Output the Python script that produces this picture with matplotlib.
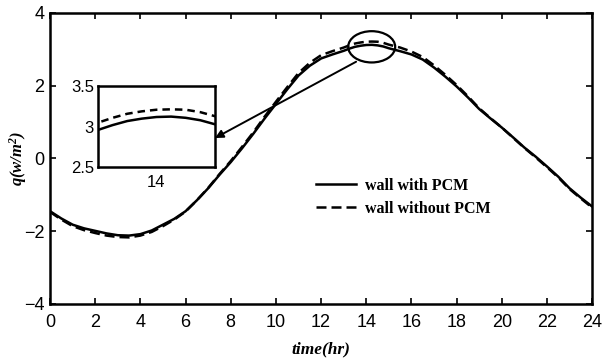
import matplotlib
matplotlib.use("Agg")
import matplotlib.pyplot as plt
from matplotlib.patches import Ellipse

# heat flux through the wall over one day (finer steps around the peak)
tempo = [0, 0.5, 1, 1.5, 2, 2.5, 3, 3.5, 4, 4.5, 5, 5.5, 6, 6.5, 7, 7.5, 8, 8.5,
         9, 9.5, 10, 10.5, 11, 11.5, 12, 12.5, 12.75, 13, 13.25, 13.5, 13.75, 14,
         14.25, 14.5, 14.75, 15, 15.25, 15.5, 16, 16.5, 17, 17.5, 18, 18.5, 19,
         19.5, 20, 20.5, 21, 21.5, 22, 22.5, 23, 23.5, 24]
q_com_pcm = [-1.45, -1.65, -1.82, -1.92, -1.99, -2.06, -2.11, -2.12, -2.08, -1.98,
             -1.82, -1.66, -1.45, -1.15, -0.82, -0.45, -0.10, 0.28, 0.68, 1.10,
             1.50, 1.90, 2.28, 2.55, 2.75, 2.86, 2.91, 2.96, 3.02, 3.07, 3.10,
             3.12, 3.125, 3.11, 3.08, 3.03, 2.99, 2.95, 2.86, 2.72, 2.50, 2.25,
             1.98, 1.68, 1.36, 1.10, 0.85, 0.58, 0.30, 0.05, -0.22, -0.50, -0.82,
             -1.08, -1.32]
q_sem_pcm = [-1.47, -1.68, -1.86, -1.97, -2.05, -2.12, -2.16, -2.17, -2.12, -2.02,
             -1.86, -1.68, -1.46, -1.15, -0.81, -0.43, -0.07, 0.32, 0.72, 1.15,
             1.56, 1.96, 2.35, 2.63, 2.84, 2.95, 3.00, 3.05, 3.11, 3.16, 3.19,
             3.21, 3.215, 3.21, 3.18, 3.13, 3.09, 3.05, 2.94, 2.79, 2.56, 2.30,
             2.02, 1.71, 1.38, 1.11, 0.85, 0.57, 0.29, 0.03, -0.24, -0.52, -0.84,
             -1.10, -1.35]

rotulos = ["wall with PCM", "wall without PCM"]
xticks = list(range(0, 25, 2))
yticks = [-4, -2, 0, 2, 4]
zoom_x = (13, 15)
zoom_y = (2.5, 3.5)

plt.rcParams["mathtext.default"] = "regular"

fig = plt.figure(figsize=(6.03, 3.61), dpi=100)
ax = fig.add_axes([0.083, 0.158, 0.899, 0.806])

ax.plot(tempo, q_com_pcm, color="black", linewidth=1.8, label=rotulos[0])
ax.plot(tempo, q_sem_pcm, color="black", linewidth=1.8, linestyle=(0, (4, 2)),
        label=rotulos[1])

ax.set_xlim(0, 24)
ax.set_ylim(-4, 4)
ax.set_xticks(xticks)
ax.set_yticks(yticks)
ax.tick_params(direction="in", length=4, width=1.2, top=True, right=True,
               labelsize=13)
ax.tick_params(axis="x", pad=7)
ax.tick_params(axis="y", pad=4)
for lbl in ax.get_xticklabels() + ax.get_yticklabels():
    lbl.set_family("Liberation Sans")
for sp in ax.spines.values():
    sp.set_linewidth(1.8)

ax.set_xlabel("time(hr)", family="Liberation Serif", style="italic",
              fontweight="bold", fontsize=12.5)
ax.set_ylabel("q(w/m$^{2}$)", family="Liberation Serif", style="italic",
              fontweight="bold", fontsize=12)
ax.xaxis.set_label_coords(0.5, -0.13)
ax.yaxis.set_label_coords(-0.038, 0.5)

ax.legend(loc="center left", bbox_to_anchor=(0.49, 0.366), frameon=False,
          prop={"family": "Liberation Serif", "weight": "bold", "size": 11.5},
          handlelength=2.5, handletextpad=0.6, labelspacing=0.45,
          borderpad=0, borderaxespad=0)

# marca do pico
ax.add_patch(Ellipse((14.24, 3.07), 2.08, 0.86, fill=False, edgecolor="black",
                     linewidth=1.6))

# detalhe ampliado do pico
axins = fig.add_axes([0.1625, 0.537, 0.194, 0.224])
axins.plot(tempo, q_com_pcm, color="black", linewidth=1.8)
axins.plot(tempo, q_sem_pcm, color="black", linewidth=1.8, linestyle=(0, (3, 2)))
axins.set_xlim(*zoom_x)
axins.set_ylim(*zoom_y)
axins.set_xticks([14])
axins.set_yticks([2.5, 3, 3.5])
axins.set_yticklabels(["2.5", "3", "3.5"])
axins.tick_params(direction="in", length=0, labelsize=12)
axins.tick_params(axis="x", pad=6)
axins.tick_params(axis="y", pad=3)
for lbl in axins.get_xticklabels() + axins.get_yticklabels():
    lbl.set_family("Liberation Sans")
for sp in axins.spines.values():
    sp.set_linewidth(1.8)

ax.annotate("", xy=(15, 2.86), xycoords=axins.transData,
            xytext=(13.55, 2.66), textcoords="data",
            arrowprops=dict(arrowstyle="-|>", color="black", lw=1.4,
                            mutation_scale=12, shrinkA=0, shrinkB=0))

fig.savefig("out.png", dpi=100)
plt.close(fig)
